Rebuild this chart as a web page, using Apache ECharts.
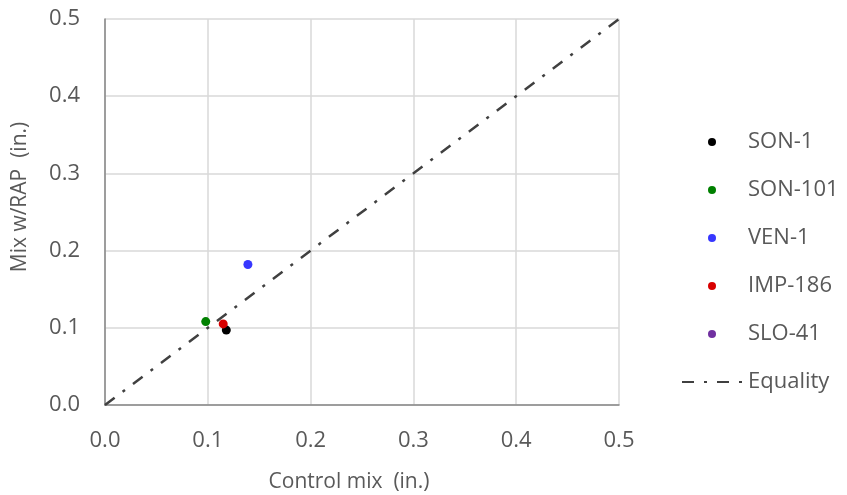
<!DOCTYPE html>
<html><head><meta charset="utf-8">
<script src="https://cdn.jsdelivr.net/npm/echarts@6/dist/echarts.min.js"></script>
<style>html,body{margin:0;padding:0;background:#fff}#c{width:847px;height:495px}</style>
</head><body><div id="c"></div>
<script>
const seriesNames = ['SON-1','SON-101','VEN-1','IMP-186','SLO-41'];
const seriesColors = ['#000000','#008000','#3737ff','#d80000','#7030a0'];
const son1 = [[0.118, 0.097]];
const son101 = [[0.098, 0.108]];
const ven1 = [[0.139, 0.182]];
const imp186 = [[0.115, 0.105]];
const slo41 = [];
const equality = [[0, 0], [0.5, 0.5]];

const font = 'Open Sans';
const dataSets = [son1, son101, ven1, imp186, slo41];
const series = seriesNames.map((n, i) => ({
  name: n, type: 'scatter', data: dataSets[i], symbolSize: 9,
  itemStyle: {color: seriesColors[i], opacity: 1}, z: 3
}));
series.push({
  name: 'Equality', type: 'line', data: equality, symbol: 'none',
  itemStyle: {color: '#404040'},
  lineStyle: {color: '#404040', width: 2.5, type: [12, 10, 3, 10]}, z: 2
});
const chart = echarts.init(document.getElementById('c'));
chart.setOption({
  animation: false,
  grid: {left: 105, right: 228, top: 19, bottom: 90, containLabel: false, outerBoundsMode: 'none'},
  xAxis: {
    type: 'value', min: 0, max: 0.5, interval: 0.1,
    name: 'Control mix  (in.)', nameLocation: 'middle', nameGap: 67,
    nameTextStyle: {fontFamily: font, fontSize: 21, color: '#595959', padding: [0, 26, 0, 0]},
    axisLine: {show: true, lineStyle: {color: '#868686', width: 1.5}},
    axisTick: {show: false},
    axisLabel: {fontFamily: font, fontSize: 22, color: '#595959', margin: 25,
      formatter: v => v.toFixed(1)},
    splitLine: {show: true, lineStyle: {color: '#d9d9d9', width: 1.5}}
  },
  yAxis: {
    type: 'value', min: 0, max: 0.5, interval: 0.1,
    name: 'Mix w/RAP  (in.)', nameLocation: 'middle', nameGap: 74,
    nameTextStyle: {fontFamily: font, fontSize: 21, color: '#595959', padding: [0, 0, 0, 30]},
    axisLine: {show: true, lineStyle: {color: '#868686', width: 1.5}},
    axisTick: {show: false},
    axisLabel: {fontFamily: font, fontSize: 22, color: '#595959', margin: 25,
      formatter: v => v.toFixed(1)},
    splitLine: {show: true, lineStyle: {color: '#d9d9d9', width: 1.5}}
  },
  legend: {
    orient: 'vertical', left: 676, top: 126, itemGap: 26,
    itemWidth: 60, itemHeight: 8,
    textStyle: {fontFamily: font, fontSize: 22, color: '#595959', padding: [0,0,0,1]},
    data: seriesNames.map(n => ({name: n, icon: 'circle'}))
      .concat([{name: 'Equality', itemStyle: {opacity: 0}}])
  },
  series: series
});
</script></body></html>
